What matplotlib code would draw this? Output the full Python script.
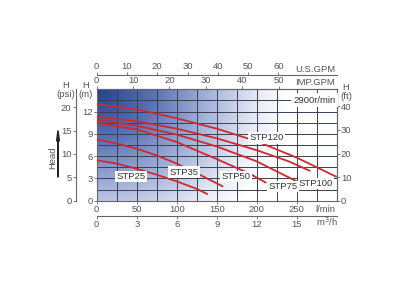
import numpy as np
import matplotlib
matplotlib.use("Agg")
import matplotlib.pyplot as plt
from matplotlib.colors import LinearSegmentedColormap

# flow in l/min, head in m
q25 = [0, 25, 50, 75, 100, 125, 139]
h25 = [5.45, 5.0, 4.3, 3.5, 2.6, 1.6, 0.85]
q35 = [0, 25, 50, 75, 100, 125, 158]
h35 = [8.25, 7.7, 7.0, 6.1, 5.0, 3.7, 1.9]
q50 = [0, 50, 100, 150, 190, 212]
h50 = [10.5, 9.6, 7.9, 5.6, 3.7, 2.4]
q75 = [0, 50, 100, 150, 200, 250]
h75 = [10.9, 10.1, 8.9, 7.3, 5.3, 2.6]
q100 = [0, 50, 100, 150, 200, 240, 267]
h100 = [11.3, 10.7, 9.7, 8.4, 6.8, 5.3, 4.0]
q120 = [0, 50, 100, 150, 200, 250, 300]
h120 = [13.0, 12.3, 11.1, 9.7, 8.0, 5.8, 3.2]

curves = {
    "STP25": (q25, h25),
    "STP35": (q35, h35),
    "STP50": (q50, h50),
    "STP75": (q75, h75),
    "STP100": (q100, h100),
    "STP120": (q120, h120),
}

# label centres (l/min, m)
label_pos = {
    "STP25": (43, 3.3),
    "STP35": (109, 3.85),
    "STP50": (174, 3.25),
    "STP75": (233, 1.9),
    "STP100": (274, 2.3),
    "STP120": (212, 8.45),
}

lpm_ticks = [0, 50, 100, 150, 200, 250]
m_ticks = [0, 3, 6, 9, 12]
psi_ticks = [0, 5, 10, 15, 20]
ft_ticks = [0, 10, 20, 30, 40]
us_ticks = [0, 10, 20, 30, 40, 50, 60]
imp_ticks = [0, 10, 20, 30, 40, 50]
m3h_ticks = [0, 3, 6, 9, 12, 15]

PSI_PER_M = 1.59
FT_PER_M = 3.15
TXT = "#555555"
FS = 6.8

plt.rcParams["font.family"] = ["Liberation Sans", "DejaVu Sans"]

fig = plt.figure(figsize=(4, 3), dpi=100)
ax = fig.add_axes([0.2418, 0.331, 0.6, 0.3713])

# background gradient, dark blue in the top left corner fading to white
cmap = LinearSegmentedColormap.from_list(
    "bg", [(0, "#24418f"), (0.3, "#5a72b6"), (0.6, "#a9b6dc"), (0.85, "#e8ecf5"), (1, "#ffffff")])
u, v = np.meshgrid(np.linspace(0, 1, 300), np.linspace(0, 1, 200))
t = np.clip(np.sqrt((u / 0.8) ** 2 + (v / 1.5) ** 2), 0, 1)
ax.imshow(t, cmap=cmap, vmin=0, vmax=1, extent=[0, 300, 0, 15], origin="upper", aspect="auto", zorder=0)
ax.set_xlim(0, 300)
ax.set_ylim(0, 15)

# grid
for x in np.arange(25, 300, 25):
    ax.axvline(x, color="#3a3f55", lw=0.7, zorder=1)
for y in np.arange(1.5, 15, 1.5):
    ax.axhline(y, color="#3a3f55", lw=0.7, zorder=1)

for name, (q, h) in curves.items():
    ax.plot(q, h, color="#cc2a2e", lw=1.3, zorder=3, solid_capstyle="butt")
    lx, ly = label_pos[name]
    ax.text(lx, ly, name, fontsize=FS, color="#333333", ha="center", va="center", zorder=4,
            bbox=dict(facecolor="white", edgecolor="none", pad=0.8))

ax.text(299, 13.5, "2900r/min", fontsize=FS, color="#333333", ha="right", va="center", zorder=4,
        bbox=dict(facecolor="white", edgecolor="none", pad=1.8))

for s in ax.spines.values():
    s.set_color("#666666")
    s.set_linewidth(0.8)

ax.set_xticks(lpm_ticks)
ax.set_yticks(m_ticks)
ax.tick_params(labelsize=FS, colors="#666666", labelcolor=TXT, length=2, width=0.6, pad=1)

# extra unit axes
imp = ax.secondary_xaxis("top", functions=(lambda x: x / 4.546, lambda x: x * 4.546))
imp.set_xticks(imp_ticks)
us = ax.secondary_xaxis(1.13, functions=(lambda x: x / 3.785, lambda x: x * 3.785))
us.set_xticks(us_ticks)
m3h = ax.secondary_xaxis(-0.135, functions=(lambda x: x * 0.06, lambda x: x / 0.06))
m3h.set_xticks(m3h_ticks)
ft = ax.secondary_yaxis("right", functions=(lambda y: y * FT_PER_M, lambda y: y / FT_PER_M))
ft.set_yticks(ft_ticks)
psi = ax.secondary_yaxis(-0.088, functions=(lambda y: y * PSI_PER_M, lambda y: y / PSI_PER_M))
psi.set_yticks(psi_ticks)
for sec in (imp, us, m3h, ft, psi):
    sec.tick_params(labelsize=FS, colors="#666666", labelcolor=TXT, length=2, width=0.6, pad=1)
    for s in sec.spines.values():
        s.set_color("#666666")
        s.set_linewidth(0.8)

fig.text(0.838, 0.77, "U.S.GPM", fontsize=FS, color=TXT, ha="right", va="center")
fig.text(0.838, 0.724, "IMP.GPM", fontsize=FS, color=TXT, ha="right", va="center")
fig.text(0.838, 0.303, "l/min", fontsize=FS, color=TXT, ha="right", va="center")
fig.text(0.845, 0.26, "m$^3$/h", fontsize=FS, color=TXT, ha="right", va="center")
fig.text(0.165, 0.70, "H\n(psi)", fontsize=FS, color=TXT, ha="center", va="center", linespacing=1.0)
fig.text(0.215, 0.70, "H\n(m)", fontsize=FS, color=TXT, ha="center", va="center", linespacing=1.0)
fig.text(0.865, 0.695, "H\n(ft)", fontsize=FS, color=TXT, ha="center", va="center", linespacing=1.0)
fig.text(0.132, 0.475, "Head", fontsize=FS, color=TXT, ha="center", va="center", rotation=90)
fig.patches.append(matplotlib.patches.FancyArrow(0.145, 0.41, 0, 0.12, width=0.0008, head_width=0.007,
                   head_length=0.035, color="#222222", transform=fig.transFigure, figure=fig))

fig.savefig("out.png", dpi=100)
